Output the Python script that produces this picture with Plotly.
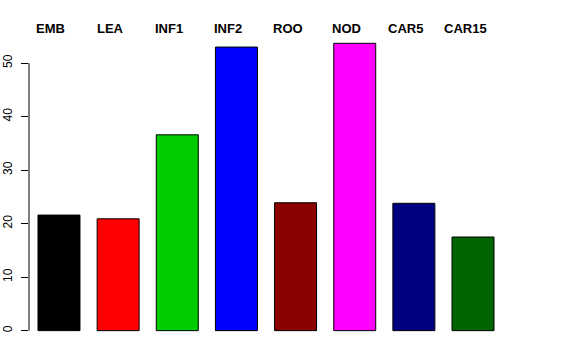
import plotly.graph_objects as go

categories = ["EMB", "LEA", "INF1", "INF2", "ROO", "NOD", "CAR5", "CAR15"]
values = [21.6, 20.9, 36.6, 53.0, 23.9, 53.7, 23.8, 17.5]
colors = ["#000000", "#FF0000", "#00CD00", "#0000FF", "#8B0000", "#FF00FF", "#000080", "#006400"]
y_ticks = [0, 10, 20, 30, 40, 50]

x_idx = list(range(len(categories)))

fig = go.Figure()
fig.add_trace(go.Bar(
    x=x_idx, y=values,
    marker=dict(color=colors, line=dict(color="#000000", width=1)),
    width=0.71,
    hoverinfo="skip",
))

for i, c in enumerate(categories):
    fig.add_annotation(
        x=i, y=1, xref="x", yref="paper",
        text="<b>%s</b>" % c, showarrow=False,
        xanchor="center", yanchor="middle", yshift=3, xshift=-8,
        font=dict(family="Liberation Sans, Arial, sans-serif", size=13, color="#000000"),
    )

# R-style axis line spanning first to last tick
fig.add_shape(type="line", xref="paper", yref="y", x0=0, x1=0,
              y0=y_ticks[0], y1=y_ticks[-1], line=dict(color="#000000", width=1))

fig.update_layout(
    width=576, height=360,
    margin=dict(l=29, r=72.5, t=31.4, b=23.65, autoexpand=False),
    paper_bgcolor="white", plot_bgcolor="white",
    showlegend=False,
    font=dict(family="Liberation Sans, Arial, sans-serif", size=12, color="#000000"),
    xaxis=dict(range=[-0.507, 7.507], showticklabels=False, showgrid=False,
               zeroline=False, showline=False, ticks="", automargin=False),
    yaxis=dict(range=[-1, 56], tickvals=y_ticks, ticktext=[str(v) for v in y_ticks],
               tickangle=-90, ticks="outside", ticklen=7, tickcolor="#000000",
               ticklabelstandoff=4,
               showgrid=False, zeroline=False, showline=False, automargin=False,
               tickfont=dict(size=12, color="#000000")),
)

fig.write_html("out.html", config={"displayModeBar": False},
               post_script="document.body.style.margin='0';")
